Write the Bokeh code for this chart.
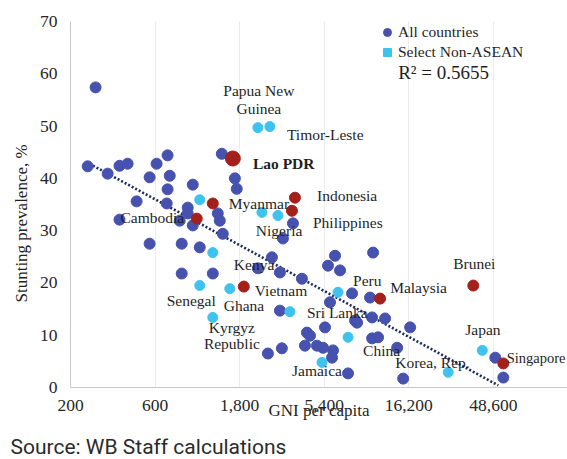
import numpy as np
from bokeh.plotting import figure
from bokeh.layouts import column
from bokeh.models import Range1d, FixedTicker, Label, Legend, LegendItem, Title
from bokeh.embed import file_html
from bokeh.resources import INLINE

# ---------------- data ----------------
all_gni = [277, 250, 324, 378, 420, 559, 612, 706, 726, 706, 979, 472, 698, 917,
           378, 826, 979, 559, 848, 1072, 1428, 1692, 1734, 917, 1355, 1391, 1446,
           3158, 3598, 2737, 2281, 3038, 848, 1270, 4044, 3038, 10190, 6216, 5673,
           6633, 7752, 9795, 5823, 10060, 11914, 8058, 16493, 5456, 4315, 4489,
           4205, 4917, 5316, 6054, 5977, 8278, 10060, 10875, 13932, 7361, 15062,
           2598, 3116, 49860, 55330]
all_stunting = [57.4, 42.3, 40.9, 42.4, 42.8, 40.2, 42.8, 44.4, 40.5, 37.9, 38.8,
                35.6, 35.2, 34.4, 32.1, 31.9, 31.0, 27.5, 27.5, 26.8, 44.7, 40.0,
                38.0, 33.3, 33.3, 31.9, 29.4, 28.5, 31.4, 24.9, 22.8, 22.0, 21.8,
                21.8, 20.8, 14.7, 25.8, 25.2, 23.3, 22.4, 18.0, 17.2, 16.3, 13.4,
                13.2, 12.8, 11.5, 11.5, 10.5, 9.9, 8.0, 8.0, 7.6, 7.1, 5.7, 12.4,
                9.4, 9.6, 7.6, 2.7, 1.7, 6.5, 7.5, 5.7, 1.9]

sel_gni = [2281, 2666, 1072, 2404, 2960, 1270, 1072, 1584, 1270, 3460, 6459,
           7361, 5248, 27040, 42100]
sel_stunting = [49.7, 49.9, 35.9, 33.5, 32.9, 25.8, 19.5, 18.9, 13.4, 14.5, 18.2,
                9.6, 4.8, 2.9, 7.1]

asean_names = ["Lao PDR", "Cambodia", "Myanmar", "Indonesia", "Philippines",
               "Vietnam", "Malaysia", "Brunei", "Singapore"]
asean_gni = [1648, 1031, 1270, 3693, 3553, 1900, 11163, 37460, 55330]
asean_stunting = [43.8, 32.3, 35.2, 36.3, 33.8, 19.3, 17.0, 19.5, 4.6]

x_ticks = [200, 600, 1800, 5400, 16200, 48600]
x_tick_labels = ["200", "600", "1,800", "5,400", "16,200", "48,600"]
y_ticks = [0, 10, 20, 30, 40, 50, 60, 70]

trend_intercept = 87.06
trend_slope = -18.38          # per decade of GNI
trend_gni = [256, 51860]
r2_text = "R\u00b2 = 0.5655"
source_text = "Source: WB Staff calculations"

# ---------------- styling / positions ----------------
BLUE = "#4652ae"
LIGHT = "#3ec3ef"
RED = "#a3201b"
SERIF = "Liberation Serif"
TXT = "#1f1f1f"

p = figure(width=567, height=430, x_axis_type="log",
           x_range=Range1d(200, 127360), y_range=Range1d(0, 70),
           output_backend="svg", toolbar_location=None,
           min_border_left=70, min_border_right=0,
           min_border_top=21, min_border_bottom=43)
p.frame_align = False
p.outline_line_color = None
p.background_fill_color = "white"
p.border_fill_color = "white"

p.xgrid.ticker = FixedTicker(ticks=x_ticks)
p.xgrid.grid_line_color = "#ececec"
p.ygrid.grid_line_color = None

p.xaxis.ticker = FixedTicker(ticks=x_ticks)
p.xaxis.major_label_overrides = {t: l for t, l in zip(x_ticks, x_tick_labels)}
p.yaxis.ticker = FixedTicker(ticks=y_ticks)
for ax in (p.xaxis[0], p.yaxis[0]):
    ax.axis_line_color = "#c8c8c8"
    ax.major_tick_line_color = None
    ax.minor_tick_line_color = None
    ax.major_tick_in = 0
    ax.major_tick_out = 0
    ax.major_label_text_font = SERIF
    ax.major_label_text_font_size = "17.5px"
    ax.major_label_text_color = "#262626"
p.xaxis.major_label_standoff = 12
p.yaxis.major_label_standoff = 13

# x-axis title sits on the tick-label row, as in the reference
p.xaxis.axis_label = "GNI per capita"
p.xaxis.axis_label_text_font = SERIF
p.xaxis.axis_label_text_font_size = "17px"
p.xaxis.axis_label_text_font_style = "normal"
p.xaxis.axis_label_text_color = TXT
p.xaxis.axis_label_standoff = -13

# y-axis title, shifted down as in the reference
p.add_layout(Title(text="Stunting prevalence, %", align="left", offset=85,
                   vertical_align="middle", text_font=SERIF, text_font_size="17px",
                   text_font_style="normal", text_color=TXT), "left")

# trend line (log fit)
tx = np.array(trend_gni, dtype=float)
ty = trend_intercept + trend_slope * np.log10(tx)
p.line(tx, ty, line_color="#1c2a5c", line_width=2.6, line_dash="2 2")

r_all = p.scatter(all_gni, all_stunting, size=11, color=BLUE)
r_sel = p.scatter(sel_gni, sel_stunting, size=10, color=LIGHT)
sizes = [15 if n == "Lao PDR" else 11 for n in asean_names]
p.scatter(asean_gni, asean_stunting, size=sizes, color=RED)

# legend swatch only (square marker, nothing drawn in the plot)
r_sq = p.scatter(x=[np.nan], y=[np.nan], marker="square", size=8, color=LIGHT)

legend = Legend(items=[LegendItem(label="All countries", renderers=[r_all]),
                       LegendItem(label="Select Non-ASEAN", renderers=[r_sq])],
                location=(307, 325), orientation="vertical",
                glyph_width=20, glyph_height=20, label_height=20,
                label_standoff=1, spacing=0, padding=0, margin=0,
                border_line_color=None, background_fill_alpha=0,
                label_text_font=SERIF, label_text_font_size="15.5px",
                label_text_color=TXT)
p.add_layout(legend)

p.add_layout(Label(x=14112, y=60.2, text=r2_text, text_font=SERIF,
                   text_font_size="19px", text_color=TXT, text_baseline="middle"))

label_specs = [
    ("Papua New", 2310, 56.8, "center", "normal", "15.5px"),
    ("Guinea", 2310, 53.3, "center", "normal", "15.5px"),
    ("Timor-Leste", 3327, 48.4, "left", "normal", "15.5px"),
    ("Lao PDR", 2139, 42.8, "left", "bold", "15.5px"),
    ("Indonesia", 4917, 36.7, "left", "normal", "15.5px"),
    ("Myanmar", 1564, 35.2, "left", "normal", "15.5px"),
    ("Philippines", 4667, 31.5, "left", "normal", "15.5px"),
    ("Nigeria", 2222, 30.0, "left", "normal", "15.5px"),
    ("Cambodia", 383, 32.5, "left", "normal", "15.5px"),
    ("Kenya", 1670, 23.5, "left", "normal", "15.5px"),
    ("Vietnam", 2193, 18.5, "left", "normal", "15.5px"),
    ("Senegal", 698, 16.6, "left", "normal", "15.5px"),
    ("Ghana", 1465, 15.7, "left", "normal", "15.5px"),
    ("Kyrgyz", 1627, 11.5, "center", "normal", "15.5px"),
    ("Republic", 1627, 8.4, "center", "normal", "15.5px"),
    ("Sri Lanka", 4315, 14.3, "left", "normal", "15.5px"),
    ("Peru", 7854, 20.5, "left", "normal", "15.5px"),
    ("Malaysia", 12720, 19.1, "left", "normal", "15.5px"),
    ("Brunei", 28860, 23.7, "left", "normal", "15.5px"),
    ("China", 8948, 7.1, "left", "normal", "15.5px"),
    ("Korea, Rep.", 13580, 4.8, "left", "normal", "15.5px"),
    ("Jamaica", 3553, 3.3, "left", "normal", "15.5px"),
    ("Japan", 33760, 11.1, "left", "normal", "15.5px"),
    ("Singapore", 57800, 5.7, "left", "normal", "14.5px"),
]
for txt, lx, ly, al, fs, fsz in label_specs:
    p.add_layout(Label(x=lx, y=ly, text=txt, text_font=SERIF, text_font_size=fsz,
                       text_font_style=fs, text_color=TXT, text_align=al,
                       text_baseline="middle"))

# source note strip below the chart
s = figure(width=567, height=29, x_range=Range1d(0, 567), y_range=Range1d(0, 29),
           output_backend="svg", toolbar_location=None,
           x_axis_location=None, y_axis_location=None,
           min_border_left=0, min_border_right=0, min_border_top=0, min_border_bottom=0)
s.frame_align = False
s.outline_line_color = None
s.xgrid.visible = False
s.ygrid.visible = False
s.add_layout(Label(x=10, y=13, text=source_text, text_font="Roboto",
                   text_font_size="21px", text_color="#2b2b2b",
                   text_align="left", text_baseline="middle"))

layout = column(p, s, spacing=0)
open("out.html", "w").write(file_html(layout, INLINE))
